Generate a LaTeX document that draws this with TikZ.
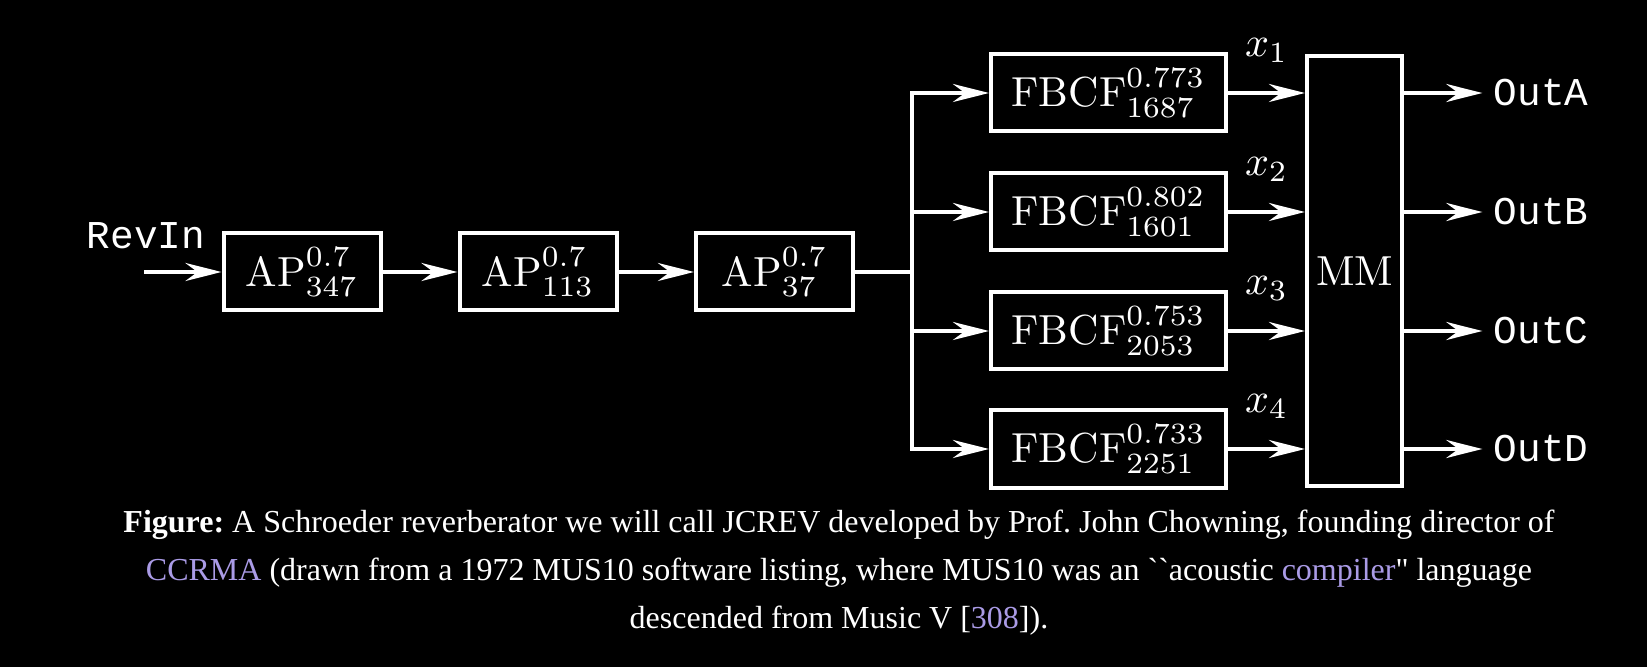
\documentclass[tikz,border=0pt]{standalone}
\usepackage{fontspec}
\usepackage{graphicx}
\newfontfamily\capfont{Liberation Serif}[Ligatures=TeXOff]
\newfontfamily\iofont{Liberation Mono}
\usetikzlibrary{arrows.meta,positioning}
\definecolor{lnk}{RGB}{170,155,230}
\newcommand{\scl}[1]{\scalebox{2.1}{#1}}

\begin{document}
\begin{tikzpicture}[
  x=0.5pt,y=-0.5pt,
  color=white,
  blk/.style={draw,line width=2pt,minimum height=38.5pt,inner sep=2pt},
  apb/.style={blk,minimum width=78.5pt},
  fbb/.style={blk,minimum width=117.5pt},
  mmb/.style={blk,minimum width=47.5pt,minimum height=215pt},
  wire/.style={line width=2pt},
  sig/.style={wire,-{Stealth[length=18pt,width=9pt,inset=6pt]}},
  xl/.style={inner sep=0pt,above=14pt},
  io/.style={font=\iofont\fontsize{19.7}{22}\selectfont,inner sep=2pt},
  oio/.style={io,inner xsep=5.5pt},
  captxt/.style={font=\capfont\fontsize{16}{24}\selectfont,align=center}
]
\fill[black] (0,0) rectangle (1647,667);
% input and allpass chain
\coordinate (in) at (144,272);
\node[io]  (revin) at (146,236) {RevIn};
\node[apb] (ap1) at (302,272)   {\scl{$\mathrm{AP}^{0.7}_{347}$}};
\node[apb] (ap2) at (538,272)   {\scl{$\mathrm{AP}^{0.7}_{113}$}};
\node[apb] (ap3) at (774.5,272) {\scl{$\mathrm{AP}^{0.7}_{37}$}};
\coordinate (br) at (912,272);
% comb filters
\node[fbb] (fb1) at (1108.5,93)  {\scl{$\mathrm{FBCF}^{0.773}_{1687}$}};
\node[fbb] (fb2) at (1108.5,212) {\scl{$\mathrm{FBCF}^{0.802}_{1601}$}};
\node[fbb] (fb3) at (1108.5,331) {\scl{$\mathrm{FBCF}^{0.753}_{2053}$}};
\node[fbb] (fb4) at (1108.5,449) {\scl{$\mathrm{FBCF}^{0.733}_{2251}$}};
\node[mmb] (mm)  at (1354.5,271) {\scl{MM}};
% outputs
\node[oio] (outa) at (1541,93)  {OutA};
\node[oio] (outb) at (1541,212) {OutB};
\node[oio] (outc) at (1541,331) {OutC};
\node[oio] (outd) at (1541,449) {OutD};
\draw[sig] (in)--(ap1); \draw[sig] (ap1)--(ap2); \draw[sig] (ap2)--(ap3);
\draw[wire] (ap3)--(br);
\draw[sig] (br)|-(fb1); \draw[sig] (br)|-(fb2);
\draw[sig] (br)|-(fb3); \draw[sig] (br)|-(fb4);
\draw[sig] (fb1)--(fb1-|mm.west) node[xl,midway]{\scl{$x_1$}};
\draw[sig] (fb2)--(fb2-|mm.west) node[xl,midway]{\scl{$x_2$}};
\draw[sig] (fb3)--(fb3-|mm.west) node[xl,midway]{\scl{$x_3$}};
\draw[sig] (fb4)--(fb4-|mm.west) node[xl,midway]{\scl{$x_4$}};
\draw[sig] (mm.east|-outa)--(outa); \draw[sig] (mm.east|-outb)--(outb);
\draw[sig] (mm.east|-outc)--(outc); \draw[sig] (mm.east|-outd)--(outd);
% caption
\node[captxt] (caption) at (839,573) {\frenchspacing\textbf{Figure:} A Schroeder reverberator we will call JCREV developed by Prof. John Chowning, founding director of\\
{\color{lnk}CCRMA} (drawn from a 1972 MUS10 software listing, where MUS10 was an ``acoustic {\color{lnk}compiler}" language\\
descended from Music V [{\color{lnk}308}]).};
\end{tikzpicture}
\end{document}
